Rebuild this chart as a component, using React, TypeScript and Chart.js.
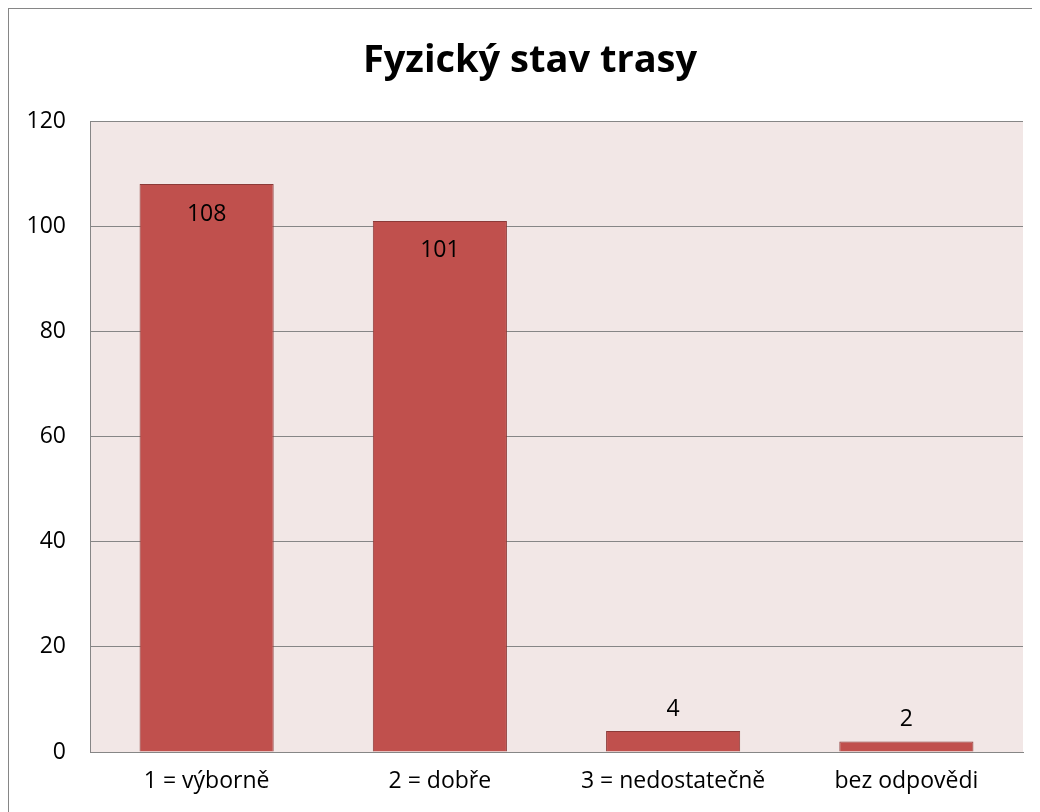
import React, { useEffect, useRef } from "react";
import { Chart, registerables } from "chart.js";

Chart.register(...registerables);

const titleText = "Fyzický stav trasy";
const categories = ["1 = výborně", "2 = dobře", "3 = nedostatečně", "bez odpovědi"];
const counts = [108, 101, 4, 2];
const yMin = 0;
const yMax = 120;
const yStep = 20;

const FONT = "'Open Sans', Lato, sans-serif";

const plotBg = {
  id: "plotBg",
  beforeDraw(chart: any) {
    const { ctx, chartArea } = chart;
    ctx.save();
    ctx.fillStyle = "#F2E7E6";
    ctx.fillRect(chartArea.left, chartArea.top, chartArea.right - chartArea.left, chartArea.bottom - chartArea.top);
    ctx.restore();
  },
};

const titleDraw = {
  id: "titleDraw",
  afterDraw(chart: any) {
    const { ctx } = chart;
    ctx.save();
    ctx.font = `bold 38px ${FONT}`;
    ctx.fillStyle = "#000000";
    ctx.textAlign = "center";
    ctx.textBaseline = "alphabetic";
    ctx.fillText(titleText, 521, 63);
    ctx.restore();
  },
};

const valueLabels = {
  id: "valueLabels",
  afterDatasetsDraw(chart: any) {
    const { ctx } = chart;
    const meta = chart.getDatasetMeta(0);
    const data = chart.data.datasets[0].data as number[];
    ctx.save();
    ctx.font = `23px ${FONT}`;
    ctx.fillStyle = "#000000";
    ctx.textAlign = "center";
    ctx.textBaseline = "middle";
    meta.data.forEach((bar: any, i: number) => {
      const h = bar.base - bar.y;
      const y = h > 50 ? bar.y + 30 : bar.y - 22;
      ctx.fillText(String(data[i]), bar.x, y);
    });
    ctx.restore();
  },
};

export default function App() {
  const ref = useRef<HTMLCanvasElement | null>(null);
  useEffect(() => {
    if (!ref.current) return;
    const chart = new Chart(ref.current, {
      type: "bar",
      data: {
        labels: categories,
        datasets: [
          {
            data: counts,
            backgroundColor: "#C0504D",
            borderColor: "#8C3A38",
            borderWidth: 1,
            categoryPercentage: 0.575,
            barPercentage: 1,
          },
        ],
      },
      options: {
        animation: false,
        responsive: false,
        maintainAspectRatio: false,
        layout: { padding: { left: 0, right: 17, top: 112, bottom: 0 } },
        plugins: {
          legend: { display: false },
          tooltip: { enabled: false },
          title: { display: false },
        },
        scales: {
          x: {
            grid: { display: false, drawTicks: false },
            border: { display: true, color: "#868686", width: 1 },
            ticks: { color: "#000000", font: { family: FONT, size: 23 }, padding: 16 },
            afterFit(scale: any) {
              scale.height = 60;
            },
          },
          y: {
            min: yMin,
            max: yMax,
            grid: { color: "#868686", drawTicks: false, lineWidth: 1 },
            border: { display: true, color: "#868686", width: 1 },
            ticks: { stepSize: yStep, color: "#000000", font: { family: FONT, size: 23 }, padding: 24 },
            afterFit(scale: any) {
              scale.width = 81;
            },
          },
        },
      },
      plugins: [plotBg, valueLabels, titleDraw],
    });
    return () => chart.destroy();
  }, []);

  return (
    <div
      style={{
        width: 1032,
        height: 804,
        borderLeft: "1px solid #868686",
        borderTop: "1px solid #868686",
        boxSizing: "border-box",
        background: "#ffffff",
      }}
    >
      <canvas ref={ref} width={1031} height={803} style={{ display: "block" }} />
    </div>
  );
}
